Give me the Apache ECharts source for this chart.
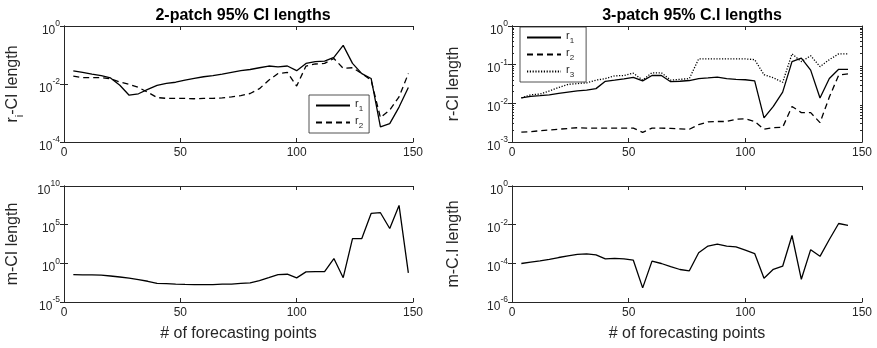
<!DOCTYPE html>
<html lang="en">
<head>
    <meta charset="UTF-8">
    <title>CI lengths</title>
    <script src="https://cdn.jsdelivr.net/npm/echarts@6/dist/echarts.min.js"></script>
    <style>
        html, body { margin: 0; padding: 0; background: #fff; }
        #main { width: 877px; height: 348px; }
    </style>
</head>
<body>
<div id="main"></div>
<script type="text/javascript">
    // forecasting points
    var x2 = [4, 8, 12, 16, 20, 24, 28, 32, 36, 40, 44, 48, 52, 56, 60, 64, 68, 72, 76, 80, 84, 88, 92, 96, 100,
        104, 108, 112, 116, 120, 124, 128, 132, 136, 140, 144, 148];
    var x3 = [4, 8, 12, 16, 20, 24, 28, 32, 36, 40, 44, 48, 52, 56, 60, 64, 68, 72, 76, 80, 84, 88, 92, 96, 100,
        104, 108, 112, 116, 120, 124, 128, 132, 136, 140, 144];

    // 2-patch r CI lengths
    var p2r1 = [0.0285, 0.0251, 0.0219, 0.0195, 0.0162, 0.0091, 0.0041, 0.0046, 0.0065, 0.0089, 0.0105, 0.0115,
        0.0135, 0.0155, 0.0178, 0.0195, 0.0219, 0.0251, 0.0288, 0.0316, 0.0363, 0.0417, 0.0389, 0.0417, 0.0288,
        0.0513, 0.0589, 0.0617, 0.0832, 0.214, 0.0513, 0.0229, 0.0155, 0.00033, 0.00043, 0.0016, 0.0076];
    var p2r2 = [0.0186, 0.0166, 0.0166, 0.0166, 0.0151, 0.0117, 0.0098, 0.0076, 0.0052, 0.0034, 0.0032, 0.0032,
        0.0032, 0.0031, 0.0032, 0.0032, 0.0033, 0.0036, 0.0040, 0.0047, 0.0069, 0.0135, 0.0229, 0.0251, 0.0085,
        0.0417, 0.049, 0.0513, 0.0759, 0.0347, 0.0363, 0.0229, 0.0135, 0.00069, 0.00126, 0.0036, 0.0229];
    // 2-patch m CI length
    var p2m = [0.035, 0.033, 0.032, 0.029, 0.023, 0.017, 0.012, 0.0078, 0.0048, 0.0026, 0.0024, 0.0021, 0.0019,
        0.0018, 0.0018, 0.0018, 0.0021, 0.0021, 0.0026, 0.0029, 0.0058, 0.014, 0.035, 0.039, 0.013, 0.078, 0.085,
        0.085, 4.2, 0.014, 1600, 1600, 2.8e6, 3.5e6, 3.2e4, 3.1e7, 0.058];

    // 3-patch r CI lengths
    var p3r1 = [0.0138, 0.0151, 0.0158, 0.0166, 0.0182, 0.0195, 0.0209, 0.0219, 0.024, 0.0372, 0.0398, 0.0427,
        0.0468, 0.038, 0.0525, 0.0525, 0.0363, 0.0372, 0.0389, 0.0437, 0.0457, 0.0479, 0.0437, 0.0417, 0.0407,
        0.038, 0.0042, 0.0083, 0.0195, 0.120, 0.148, 0.0724, 0.0138, 0.0437, 0.0759, 0.0759];
    var p3r2 = [0.0018, 0.00186, 0.00195, 0.00204, 0.00214, 0.00224, 0.00234, 0.00229, 0.00229, 0.00229, 0.00229,
        0.00229, 0.00229, 0.00178, 0.00229, 0.00229, 0.00224, 0.00219, 0.00214, 0.00282, 0.00331, 0.00339, 0.00339,
        0.00389, 0.00398, 0.00339, 0.00214, 0.00234, 0.0024, 0.0083, 0.00575, 0.00575, 0.00316, 0.0145, 0.0537, 0.0575];
    var p3r3 = [0.0138, 0.0166, 0.0174, 0.0209, 0.0257, 0.0309, 0.0324, 0.0339, 0.0398, 0.0437, 0.0513, 0.0525,
        0.0603, 0.0398, 0.0617, 0.0617, 0.0398, 0.0417, 0.0437, 0.141, 0.141, 0.141, 0.141, 0.141, 0.141, 0.135,
        0.055, 0.046, 0.035, 0.19, 0.12, 0.17, 0.089, 0.135, 0.19, 0.19];
    // 3-patch m CI length
    var p3m = [9.8e-5, 1.15e-4, 1.35e-4, 1.6e-4, 2.0e-4, 2.45e-4, 2.9e-4, 3.1e-4, 2.75e-4, 1.7e-4, 1.8e-4, 1.7e-4,
        1.45e-4, 5.4e-6, 1.3e-4, 9.8e-5, 6.8e-5, 4.8e-5, 4.1e-5, 3.5e-4, 7.8e-4, 9.8e-4, 7.8e-4, 7.1e-4, 4.8e-4,
        3.2e-4, 1.7e-5, 4.9e-5, 7.1e-5, 2.75e-3, 1.5e-5, 5.1e-4, 2.3e-4, 1.7e-3, 0.0115, 0.0091];

    // tick labels
    var xTicks = [0, 50, 100, 150];
    var yTicksTL = [1e-4, 1e-2, 1];
    var yTicksTR = [1e-3, 1e-2, 1e-1, 1];
    var yMinorTR = [0.002, 0.003, 0.004, 0.005, 0.006, 0.007, 0.008, 0.009,
        0.02, 0.03, 0.04, 0.05, 0.06, 0.07, 0.08, 0.09,
        0.2, 0.3, 0.4, 0.5, 0.6, 0.7, 0.8, 0.9];
    var yTicksBL = [1e-5, 1, 1e5, 1e10];
    var yTicksBR = [1e-6, 1e-4, 1e-2, 1];

    var FONT = '"Liberation Sans", Arial, sans-serif';
    var AX = '#262626';

    var grids = [
        {left: 64, top: 26, width: 349, height: 116},
        {left: 512, top: 26, width: 350, height: 116},
        {left: 64, top: 186, width: 349, height: 116},
        {left: 512, top: 186, width: 350, height: 116}
    ];

    // 10^k tick labels: spacer sets the line height, base at bottom, exponent at top
    var supRich = {
        sp: {fontSize: 1, lineHeight: 17},
        b: {fontSize: 12, fontFamily: FONT, color: AX, verticalAlign: 'bottom'},
        s: {fontSize: 8.5, fontFamily: FONT, color: AX, verticalAlign: 'top'}
    };
    var subRich = {
        b: {fontSize: 16, fontFamily: FONT, color: AX, lineHeight: 20, verticalAlign: 'top'},
        s: {fontSize: 11, fontFamily: FONT, color: AX, lineHeight: 8, verticalAlign: 'bottom'}
    };
    var legRich = {
        b: {fontSize: 11, fontFamily: FONT, color: AX, lineHeight: 15, verticalAlign: 'top'},
        s: {fontSize: 8, fontFamily: FONT, color: AX, lineHeight: 6, verticalAlign: 'bottom'}
    };

    function pts(xs, ys) {
        return xs.map(function (x, i) { return [x, ys[i]]; });
    }

    function powLabel(v) {
        var e = Math.round(Math.log10(v));
        return '{sp| }{b|10}{s|' + e + '}';
    }

    function xAxisOf(g, pos, name) {
        return {
            type: 'value', gridIndex: g, position: pos, min: 0, max: 150,
            axisLine: {show: true, onZero: false, lineStyle: {color: AX, width: 1}},
            axisTick: {show: true, inside: true, length: 4, customValues: xTicks, lineStyle: {color: AX}},
            axisLabel: {show: pos === 'bottom', customValues: xTicks, margin: 5, fontSize: 12, fontFamily: FONT, color: AX},
            splitLine: {show: false},
            name: name || '', nameLocation: 'middle', nameGap: 24,
            nameTextStyle: {fontSize: 16, fontFamily: FONT, color: AX}
        };
    }

    function yAxisOf(g, pos, lo, hi, ticks, name, gap, tickLen, labels) {
        return {
            type: 'log', logBase: 10, gridIndex: g, position: pos, min: lo, max: hi,
            axisLine: {show: true, lineStyle: {color: AX, width: 1}},
            axisTick: {show: true, inside: true, length: tickLen, customValues: ticks, lineStyle: {color: AX}},
            axisLabel: {
                show: !!labels, customValues: ticks, margin: 4, padding: [4, 0, 0, 0],
                formatter: powLabel, rich: supRich
            },
            splitLine: {show: false},
            name: name || '', nameLocation: 'middle', nameGap: gap,
            nameTextStyle: {fontSize: 16, fontFamily: FONT, color: AX, rich: subRich}
        };
    }

    function lineOf(name, xi, yi, data, type) {
        return {
            name: name, type: 'line', xAxisIndex: xi, yAxisIndex: yi, data: data,
            symbol: 'none', animation: false, silent: true,
            itemStyle: {color: '#000'},
            lineStyle: {color: '#000', width: 1.3, type: type}
        };
    }

    function legendOf(names, left, top, padRight) {
        return {
            data: names, orient: 'vertical', left: left, top: top,
            padding: [3, padRight, 3, 6], itemGap: 2, itemWidth: 34, itemHeight: 12,
            borderColor: AX, borderWidth: 0.8, backgroundColor: '#fff', selectedMode: false,
            itemStyle: {opacity: 0},
            formatter: function (n) { return '{b|r}{s|' + n.slice(1) + '}'; },
            textStyle: {rich: legRich}
        };
    }

    var myChart = echarts.init(document.getElementById('main'));

    var option = {
        backgroundColor: '#fff',
        animation: false,
        title: [
            {text: '2-patch 95% CI lengths', left: 238, top: 3, textAlign: 'center',
                textStyle: {fontSize: 16, fontWeight: 'bold', fontFamily: FONT, color: '#000'}},
            {text: '3-patch 95% C.I lengths', left: 687, top: 3, textAlign: 'center',
                textStyle: {fontSize: 16, fontWeight: 'bold', fontFamily: FONT, color: '#000'}}
        ],
        legend: [
            legendOf(['r1', 'r2'], 309, 95, 6),
            legendOf(['r1', 'r2', 'r3'], 520, 27, 12)
        ],
        grid: grids,
        xAxis: [
            xAxisOf(0, 'bottom'), xAxisOf(0, 'top'),
            xAxisOf(1, 'bottom'), xAxisOf(1, 'top'),
            xAxisOf(2, 'bottom', '# of forecasting points'), xAxisOf(2, 'top'),
            xAxisOf(3, 'bottom', '# of forecasting points'), xAxisOf(3, 'top')
        ],
        yAxis: [
            // 0,1 : top left
            yAxisOf(0, 'left', 1e-4, 1, yTicksTL, '{b|r}{s|i}{b|-CI length}', 39, 4, true),
            yAxisOf(0, 'right', 1e-4, 1, yTicksTL, '', 0, 4, false),
            // 2..5 : top right, with minor ticks
            yAxisOf(1, 'left', 1e-3, 1, yTicksTR, '{b|r-CI length}', 46, 4, true),
            yAxisOf(1, 'right', 1e-3, 1, yTicksTR, '', 0, 4, false),
            yAxisOf(1, 'left', 1e-3, 1, yMinorTR, '', 0, 2, false),
            yAxisOf(1, 'right', 1e-3, 1, yMinorTR, '', 0, 2, false),
            // 6,7 : bottom left
            yAxisOf(2, 'left', 1e-5, 1e10, yTicksBL, '{b|m-CI length}', 39, 4, true),
            yAxisOf(2, 'right', 1e-5, 1e10, yTicksBL, '', 0, 4, false),
            // 8,9 : bottom right
            yAxisOf(3, 'left', 1e-6, 1, yTicksBR, '{b|m-C.I length}', 46, 4, true),
            yAxisOf(3, 'right', 1e-6, 1, yTicksBR, '', 0, 4, false)
        ],
        series: [
            lineOf('r1', 0, 0, pts(x2, p2r1), 'solid'),
            lineOf('r2', 0, 0, pts(x2, p2r2), [6, 4]),
            lineOf('r1', 2, 2, pts(x3, p3r1), 'solid'),
            lineOf('r2', 2, 2, pts(x3, p3r2), [6, 4]),
            lineOf('r3', 2, 2, pts(x3, p3r3), [1.2, 1.6]),
            lineOf('m', 4, 6, pts(x2, p2m), 'solid'),
            lineOf('m', 6, 8, pts(x3, p3m), 'solid')
        ]
    };
    myChart.setOption(option);
</script>
</body>
</html>
